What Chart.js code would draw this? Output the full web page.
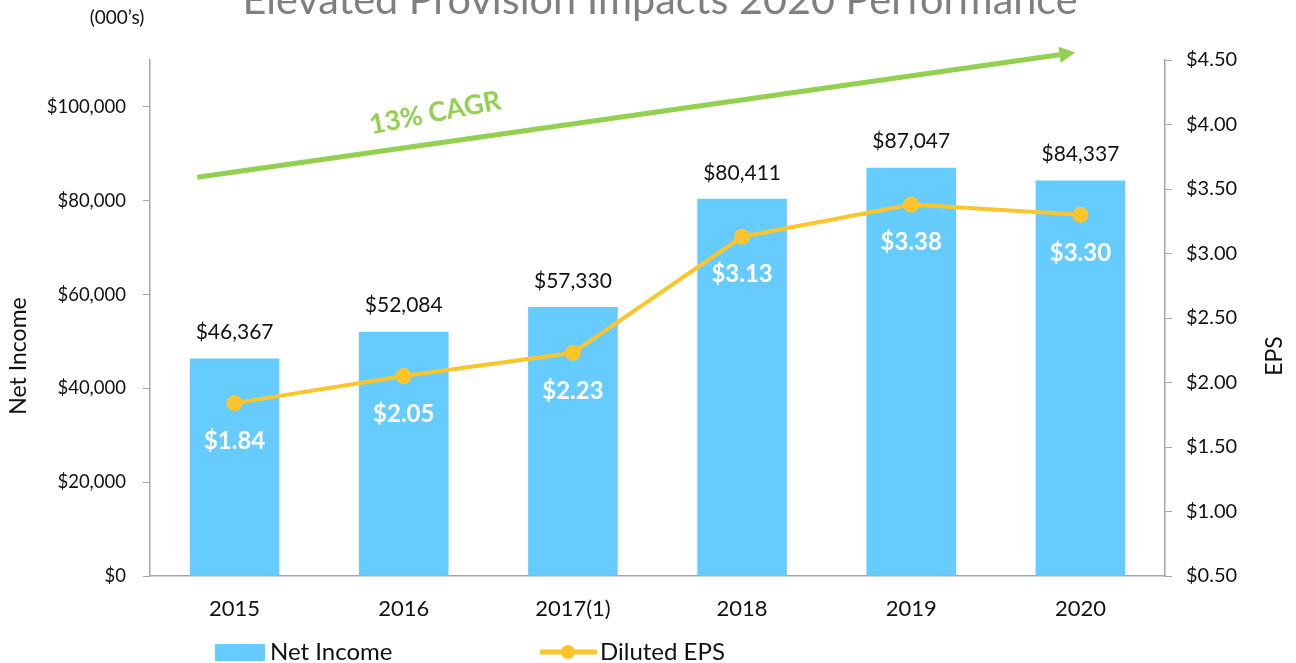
<!DOCTYPE html>
<html>
<head>
<meta charset="utf-8">
<script src="https://cdn.jsdelivr.net/npm/chart.js@4.4.1/dist/chart.umd.min.js"></script>
<style>
html, body { margin: 0; padding: 0; background: #fff; }
#wrap { width: 1296px; height: 663px; }
</style>
</head>
<body>
<div id="wrap"><canvas id="myChart"></canvas></div>
<script>
const years = ['2015', '2016', '2017(1)', '2018', '2019', '2020'];
const netIncome = [46367, 52084, 57330, 80411, 87047, 84337];
const dilutedEps = [1.84, 2.05, 2.23, 3.13, 3.38, 3.30];
const incomeTicks = [0, 20000, 40000, 60000, 80000, 100000];

// CAGR arrow, in category index / net income units
const cagrStart = [-0.22, 85000];
const cagrEnd = [4.97, 111600];

const FONT = 'Lato, "Open Sans", sans-serif';
const BLUE = '#66ccff';
const GOLD = '#fdc52c';
const GREEN = '#92d050';
const AXIS = '#a6a6a6';

const money = v => '$' + Number(v).toLocaleString('en-US');

const extras = {
    id: 'extras',
    afterDatasetsDraw(chart) {
        const c = chart.ctx;
        const x = chart.scales.x;
        const y = chart.scales.y;

        // bar labels
        const barMeta = chart.getDatasetMeta(0);
        c.save();
        c.fillStyle = '#111';
        c.font = '21px ' + FONT;
        c.textAlign = 'center';
        c.textBaseline = 'middle';
        barMeta.data.forEach((bar, i) => {
            c.fillText(money(netIncome[i]), bar.x, bar.y - 26);
        });

        // eps labels
        const lineMeta = chart.getDatasetMeta(1);
        c.fillStyle = '#fff';
        c.font = 'bold 24px ' + FONT;
        lineMeta.data.forEach((pt, i) => {
            c.fillText('$' + dilutedEps[i].toFixed(2), pt.x, pt.y + 38);
        });

        // cagr arrow
        const x0 = x.getPixelForValue(cagrStart[0]), y0 = y.getPixelForValue(cagrStart[1]);
        const x1 = x.getPixelForValue(cagrEnd[0]), y1 = y.getPixelForValue(cagrEnd[1]);
        const ang = Math.atan2(y1 - y0, x1 - x0);
        const head = 16;
        c.strokeStyle = GREEN;
        c.fillStyle = GREEN;
        c.lineWidth = 5;
        c.beginPath();
        c.moveTo(x0, y0);
        c.lineTo(x1 - head * Math.cos(ang), y1 - head * Math.sin(ang));
        c.stroke();
        c.beginPath();
        c.moveTo(x1, y1);
        c.lineTo(x1 - head * Math.cos(ang) + 8 * Math.sin(ang), y1 - head * Math.sin(ang) - 8 * Math.cos(ang));
        c.lineTo(x1 - head * Math.cos(ang) - 8 * Math.sin(ang), y1 - head * Math.sin(ang) + 8 * Math.cos(ang));
        c.closePath();
        c.fill();

        c.save();
        c.translate(435, 113);
        c.rotate(-11 * Math.PI / 180);
        c.font = 'bold 27px ' + FONT;
        c.fillText('13% CAGR', 0, 0);
        c.restore();
        c.restore();
    },
    afterDraw(chart) {
        const c = chart.ctx;
        c.save();
        // title, cut off at the top like the slide
        c.fillStyle = '#7f7f7f';
        c.textAlign = 'center';
        c.textBaseline = 'alphabetic';
        const title = 'Elevated Provision Impacts 2020 Performance';
        c.font = '40px ' + FONT;
        const w = c.measureText(title).width;
        c.font = (40 * 835 / w).toFixed(1) + 'px ' + FONT;
        c.fillText(title, 660, 14);

        c.fillStyle = '#111';
        c.font = '19px ' + FONT;
        c.textBaseline = 'middle';
        c.fillText('(000\u2019s)', 117, 18);

        // axis titles
        c.font = '23px ' + FONT;
        c.save();
        c.translate(19, 356);
        c.rotate(-Math.PI / 2);
        c.fillText('Net Income', 0, 0);
        c.restore();
        c.save();
        c.translate(1275, 356);
        c.rotate(-Math.PI / 2);
        c.fillText('EPS', 0, 0);
        c.restore();

        // legend
        c.font = '24px ' + FONT;
        c.textAlign = 'left';
        c.fillStyle = BLUE;
        c.fillRect(215, 644, 50, 17);
        c.fillStyle = '#111';
        c.fillText('Net Income', 270, 652);
        c.strokeStyle = GOLD;
        c.lineWidth = 5;
        c.beginPath();
        c.moveTo(540, 652);
        c.lineTo(597, 652);
        c.stroke();
        c.fillStyle = GOLD;
        c.beginPath();
        c.arc(568, 652, 7, 0, Math.PI * 2);
        c.fill();
        c.fillStyle = '#111';
        c.fillText('Diluted EPS', 600, 652);
        c.restore();
    }
};

const ctx = document.getElementById('myChart');
const chart = new Chart(ctx, {
    type: 'bar',
    data: {
        labels: years,
        datasets: [{
            type: 'bar',
            label: 'Net Income',
            data: netIncome,
            backgroundColor: BLUE,
            yAxisID: 'y',
            barPercentage: 0.53,
            categoryPercentage: 1,
            order: 2
        }, {
            type: 'line',
            label: 'Diluted EPS',
            data: dilutedEps,
            borderColor: GOLD,
            backgroundColor: GOLD,
            borderWidth: 4,
            pointRadius: 8,
            pointBackgroundColor: GOLD,
            pointBorderWidth: 0,
            yAxisID: 'y1',
            order: 1
        }]
    },
    options: {
        responsive: true,
        maintainAspectRatio: false,
        animation: false,
        layout: { padding: { top: 60, left: 0, right: 0, bottom: 0 } },
        plugins: {
            legend: { display: false },
            tooltip: { enabled: false }
        },
        scales: {
            x: {
                grid: { display: false, drawTicks: false },
                border: { color: AXIS, width: 1.5 },
                ticks: { color: '#111', font: { size: 22, family: FONT }, padding: 20 },
                afterFit: s => { s.height = 87; }
            },
            y: {
                position: 'left',
                min: 0,
                max: 110000,
                grid: { drawOnChartArea: false, tickLength: 7, color: AXIS },
                border: { color: AXIS, width: 1.5 },
                ticks: {
                    padding: 17,
                    color: '#111',
                    font: { size: 18.5, family: FONT },
                    callback: v => money(v)
                },
                afterBuildTicks: s => { s.ticks = incomeTicks.map(v => ({ value: v })); },
                afterFit: s => { s.width = 150; }
            },
            y1: {
                position: 'right',
                min: 0.5,
                max: 4.5,
                grid: { drawOnChartArea: false, tickLength: 7, color: AXIS },
                border: { color: AXIS, width: 1.5 },
                ticks: {
                    stepSize: 0.5,
                    padding: 14,
                    color: '#111',
                    font: { size: 20, family: FONT },
                    callback: v => '$' + Number(v).toFixed(2)
                },
                afterFit: s => { s.width = 131; }
            }
        }
    },
    plugins: [extras]
});
</script>
</body>
</html>
